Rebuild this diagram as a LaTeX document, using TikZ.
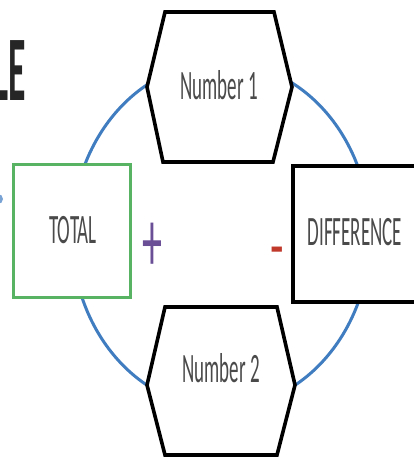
\documentclass[tikz,border=0pt]{standalone}
\usepackage{graphicx}
\usepackage{fontspec}
\setmainfont{Carlito}
\definecolor{ringblue}{HTML}{3F7CC0}
\definecolor{boxgreen}{HTML}{58B363}
\definecolor{pluspurple}{HTML}{6A4E96}
\definecolor{minusred}{HTML}{C0392B}
\definecolor{txtgray}{HTML}{4A4A4A}
\begin{document}
\begin{tikzpicture}[x=1pt,y=-1pt,
  lbl/.style={text=txtgray, font=\fontsize{19}{19}\selectfont, inner sep=0pt},
  hexline/.style={draw=black, line width=3.6pt, fill=white, line join=miter},
  boxline/.style={line width=3.6pt, fill=white}]
\useasboundingbox (0,0) rectangle (414,461);
\clip (0,0) rectangle (414,461);
\fill[white] (0,0) rectangle (414,461);
% ring
\coordinate (c) at (221,235);
\draw[ringblue, line width=3pt] (c) ellipse [x radius=149pt, y radius=173pt];
% hexagons
\draw[hexline] (165,12) -- (274,12) -- (292,87) -- (273,162) -- (163,162) -- (147,87) -- cycle;
\draw[hexline] (165,307) -- (277,307) -- (295,385) -- (277,455) -- (165,455) -- (147,385) -- cycle;
% boxes
\draw[boxline, draw=boxgreen, line width=3pt] (13,164) rectangle (130,297);
\draw[boxline, draw=black] (293,166) rectangle (422,302);
% labels
\node[lbl] (n1) at (219,85) {\scalebox{1}[2.2]{Number 1}};
\node[lbl] (n2) at (221,368) {\scalebox{1}[2.2]{Number 2}};
\node[lbl] (tot) at (73,230) {\scalebox{1}[2.2]{TOTAL}};
\node[lbl] (dif) at (355,232) {\scalebox{1}[2.2]{DIFFERENCE}};
% operators
\node[text=pluspurple, font=\fontsize{40}{40}\selectfont, inner sep=0pt, anchor=base] (plus) at (152,271) {\scalebox{1}[2.2]{+}};
\node[text=minusred, font=\fontsize{44}{44}\selectfont, inner sep=0pt, anchor=base] (minus) at (277,269) {\scalebox{1}[1.6]{-}};
% cut title
\node[text=black!85, font=\bfseries\fontsize{42}{42}\selectfont, inner sep=0pt, anchor=base east] (title) at (26,100) {\scalebox{0.85}[2.2]{LE}};
% stray mark at left edge
\fill[ringblue, opacity=0.7] (-2,199) circle (5pt);
\end{tikzpicture}
\end{document}
